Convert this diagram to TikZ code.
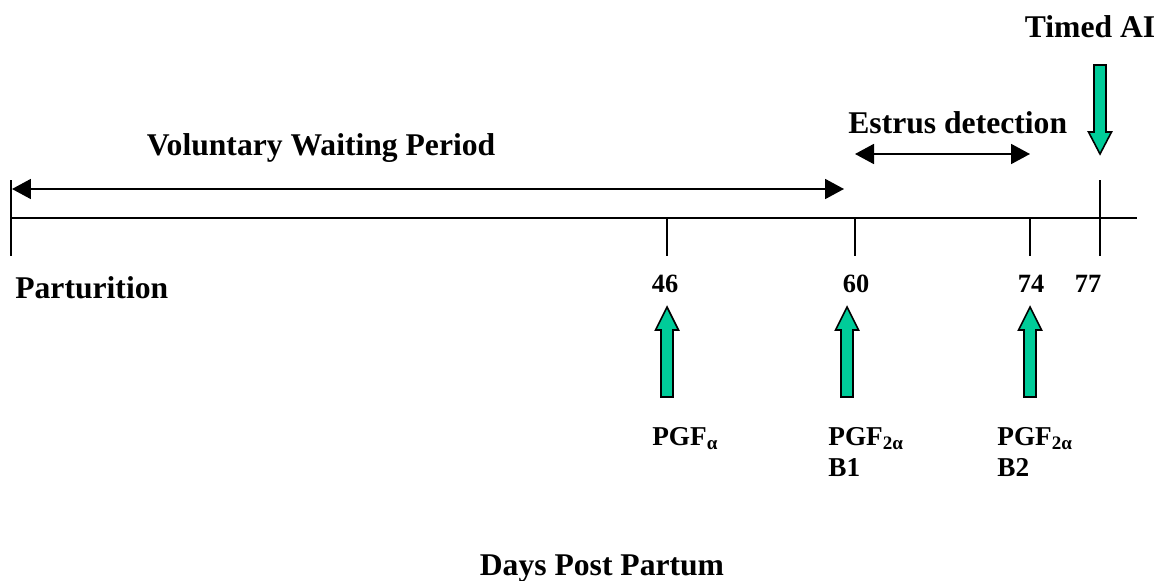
\documentclass[tikz,border=0pt]{standalone}
\usepackage{fontspec}
\setmainfont{Liberation Serif}
\usetikzlibrary{arrows.meta}
\usetikzlibrary{calc,positioning}

\definecolor{injgreen}{RGB}{0,204,153}

\begin{document}
\begin{tikzpicture}[x=0.02cm,y=-0.02cm]
    \tikzstyle{axis line} = [draw, line width=1.1pt]
    \tikzstyle{span line} = [draw, line width=1.1pt, {Triangle[length=0.38cm,width=0.4cm]}-{Triangle[length=0.38cm,width=0.4cm]}]
    \tikzstyle{big label} = [inner sep=0pt, font=\fontsize{18}{20}\selectfont\bfseries]
    \tikzstyle{day label} = [inner sep=0pt, font=\fontsize{15}{17}\selectfont\bfseries]
    \tikzstyle{drug label} = [inner sep=0pt, align=left, font=\fontsize{15.5}{17.5}\selectfont\bfseries]
    \tikzstyle{green arrow} = [draw, line width=0.9pt, fill=injgreen, line join=miter]

    \def\shaftHalf{6}
    \def\headHalf{11.5}
    \def\headLength{23}
    \def\shaftLength{67}
    \def\tickLength{38}

    \useasboundingbox (0,0) rectangle (1159,581);

    % days on the axis
    \coordinate (d0) at (11,218);
    \coordinate (d46) at (667,218);
    \coordinate (d60) at (855,218);
    \coordinate (d74) at (1030,218);
    \coordinate (d77) at (1100,218);
    \coordinate (dEnd) at (1137,218);

    \path [axis line] (d0) -- (dEnd);
    \path [axis line] ($(d0)+(0,-\tickLength)$) -- ($(d0)+(0,\tickLength)$);
    \path [axis line] ($(d77)+(0,-\tickLength)$) -- ($(d77)+(0,\tickLength)$);
    \foreach \d in {46,60,74}
        \path [axis line] (d\d) -- ++(0,\tickLength);

    % waiting period and estrus detection
    \coordinate (vwpL) at ($(d0)+(1,-29)$);
    \coordinate (vwpR) at ($(d60)+(-11,-29)$);
    \path [span line] (vwpL) -- (vwpR);

    \coordinate (edL) at ($(d60)+(0,-64)$);
    \coordinate (edR) at ($(d74)+(0,-64)$);
    \path [span line] (edL) -- (edR);

    \node (vwp) [big label, anchor=base] at (321,155) {Voluntary Waiting Period};
    \node (estrus) [big label, anchor=base west] at (848,133) {Estrus detection};
    \node (timedAI) [big label, anchor=base] at (1090,38) {Timed AI};
    \node (parturition) [big label, anchor=base west] at (15,298) {Parturition};
    \node (days) [big label, anchor=base] at (602,575) {Days Post Partum};

    \node (n46) [day label, anchor=base] at (665,292) {46};
    \node (n60) [day label, anchor=base] at (856,292) {60};
    \node (n74) [day label, anchor=base] at (1031,292) {74};
    \node (n77) [day label, anchor=base] at (1088,292) {77};

    % injections
    \coordinate (inj46) at (667,307);
    \coordinate (inj60) at (847,307);
    \coordinate (inj74) at (1030,307);
    \foreach \i in {46,60,74}
        \path [green arrow] (inj\i) -- ++(\headHalf,\headLength) -- ++(-\headHalf+\shaftHalf,0)
            -- ++(0,\shaftLength) -- ++(-2*\shaftHalf,0) -- ++(0,-\shaftLength)
            -- ++(-\headHalf+\shaftHalf,0) -- cycle;

    \coordinate (ai) at (1100,154);
    \path [green arrow] (ai) -- ++(\headHalf,-\headLength+1) -- ++(-\headHalf+\shaftHalf,0)
        -- ++(0,-\shaftLength) -- ++(-2*\shaftHalf,0) -- ++(0,\shaftLength)
        -- ++(-\headHalf+\shaftHalf,0) -- cycle;

    \node (pgf46) [drug label, anchor=north west] at (652,427) {PGF\textsubscript{α}};
    \node (pgf60) [drug label, anchor=north west] at (828,427) {PGF\textsubscript{2α}\\B1};
    \node (pgf74) [drug label, anchor=north west] at (997,427) {PGF\textsubscript{2α}\\B2};
\end{tikzpicture}
\end{document}
